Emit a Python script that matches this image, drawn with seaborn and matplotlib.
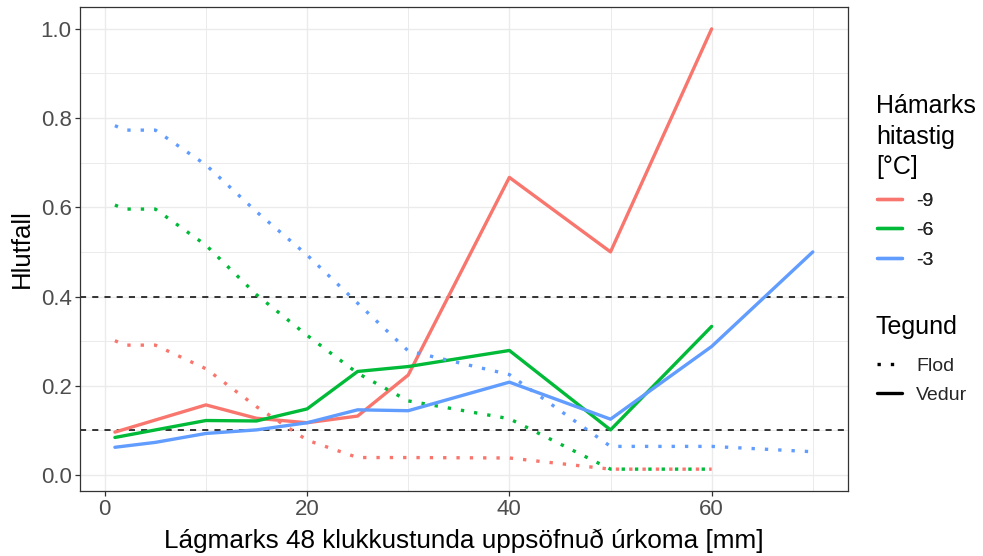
import matplotlib
matplotlib.use("Agg")
import matplotlib.pyplot as plt
from matplotlib.lines import Line2D
from matplotlib.ticker import MultipleLocator
import pandas as pd
import seaborn as sns

# Lágmarks uppsöfnuð úrkoma [mm] og hlutfall fyrir hverja röð
flod_x_short = [1, 2, 5, 10, 15, 20, 25, 30, 40, 50, 60]
flod_x_long = [1, 2, 5, 10, 15, 20, 25, 30, 40, 50, 60, 70]
flod_m9 = [0.301, 0.291, 0.291, 0.238, 0.153, 0.078, 0.039, 0.039, 0.038, 0.013, 0.013]
flod_m6 = [0.605, 0.596, 0.596, 0.515, 0.404, 0.313, 0.228, 0.166, 0.126, 0.013, 0.013]
flod_m3 = [0.783, 0.773, 0.773, 0.695, 0.590, 0.493, 0.385, 0.278, 0.225, 0.064, 0.064, 0.052]

vedur_m9_x = [1, 10, 15, 20, 25, 30, 40, 50, 60]
vedur_m9 = [0.096, 0.157, 0.127, 0.117, 0.132, 0.224, 0.667, 0.500, 1.000]
vedur_m6_x = [1, 10, 15, 20, 25, 30, 40, 50, 60]
vedur_m6 = [0.084, 0.122, 0.121, 0.148, 0.232, 0.243, 0.279, 0.101, 0.333]
vedur_m3_x = [1, 5, 10, 15, 20, 25, 30, 40, 50, 60, 70]
vedur_m3 = [0.062, 0.073, 0.093, 0.101, 0.117, 0.146, 0.144, 0.208, 0.125, 0.288, 0.500]

hiti_levels = ["-9", "-6", "-3"]
tegund_levels = ["Flod", "Vedur"]
colors = {"-9": "#F8766D", "-6": "#00BA38", "-3": "#619CFF"}
thresholds = [0.4, 0.1]

series = [
    ("-9", "Flod", flod_x_short, flod_m9),
    ("-6", "Flod", flod_x_short, flod_m6),
    ("-3", "Flod", flod_x_long, flod_m3),
    ("-9", "Vedur", vedur_m9_x, vedur_m9),
    ("-6", "Vedur", vedur_m6_x, vedur_m6),
    ("-3", "Vedur", vedur_m3_x, vedur_m3),
]
rows = []
for hiti, teg, xs, ys in series:
    for x, y in zip(xs, ys):
        rows.append({"urkoma": x, "hlutfall": y, "hiti": hiti, "tegund": teg})
df = pd.DataFrame(rows)

sns.set_theme(style="white")
plt.rcParams["font.family"] = ["Liberation Sans", "DejaVu Sans"]

LW = 2.4
W, H = 983, 556
fig = plt.figure(figsize=(W / 100, H / 100), dpi=100)
ax = fig.add_axes([80 / W, 1 - 491 / H, (847.7 - 80) / W, (491 - 7) / H])

# grid behind everything
ax.set_axisbelow(True)
ax.xaxis.set_major_locator(MultipleLocator(20))
ax.xaxis.set_minor_locator(MultipleLocator(10))
ax.yaxis.set_major_locator(MultipleLocator(0.2))
ax.yaxis.set_minor_locator(MultipleLocator(0.1))
ax.grid(which="major", color="#EBEBEB", lw=1.0)
ax.grid(which="minor", color="#EBEBEB", lw=0.7)

for yv in thresholds:
    ax.axhline(yv, color="black", lw=1.1, ls=(0, (4, 4)), zorder=1.5)

sns.lineplot(
    data=df, x="urkoma", y="hlutfall", hue="hiti", style="tegund",
    hue_order=hiti_levels, style_order=tegund_levels, palette=colors,
    dashes={"Flod": (1, 3), "Vedur": ""}, lw=LW, errorbar=None,
    legend=False, ax=ax, zorder=2,
)

ax.set_xlim(-2.45, 73.45)
ax.set_ylim(-0.036, 1.049)
ax.set_yticks([0.0, 0.2, 0.4, 0.6, 0.8, 1.0])
ax.set_yticklabels(["0.0", "0.2", "0.4", "0.6", "0.8", "1.0"])

for s in ax.spines.values():
    s.set_color("#333333")
    s.set_linewidth(0.9)
ax.tick_params(which="major", length=3.5, width=0.9, color="#333333",
               labelsize=16, labelcolor="#4D4D4D", pad=2.5,
               bottom=True, left=True)
ax.tick_params(which="minor", length=0, bottom=False, left=False)

ax.set_xlabel("Lágmarks 48 klukkustunda uppsöfnuð úrkoma [mm]", fontsize=18.8,
              color="black", labelpad=6)
ax.set_ylabel("Hlutfall", fontsize=18.5, color="black", labelpad=5)

# legend titles
fig.text(876 / W, 1 - 94 / H, "Hámarks\nhitastig\n[°C]", fontsize=18,
         ha="left", va="top", linespacing=1.35, color="black")
fig.text(876 / W, 1 - 327 / H, "Tegund", fontsize=18,
         ha="left", va="center", color="black")

# legend entries
h1 = [Line2D([], [], color=colors[k], lw=LW) for k in hiti_levels]
leg1 = fig.legend(h1, hiti_levels, loc="upper left",
                  bbox_to_anchor=(877 / W, 1 - 192 / H),
                  frameon=False, fontsize=14,
                  handlelength=1.3, handletextpad=0.7, labelspacing=0.62,
                  borderpad=0, borderaxespad=0)
fig.add_artist(leg1)

h2 = [Line2D([], [], color="black", lw=LW, ls=(0, (1, 3))),
      Line2D([], [], color="black", lw=LW)]
leg2 = fig.legend(h2, tegund_levels, loc="upper left",
                  bbox_to_anchor=(877 / W, 1 - 357 / H),
                  frameon=False, fontsize=14,
                  handlelength=1.3, handletextpad=0.7, labelspacing=0.62,
                  borderpad=0, borderaxespad=0)

fig.savefig("out.png", dpi=100)
